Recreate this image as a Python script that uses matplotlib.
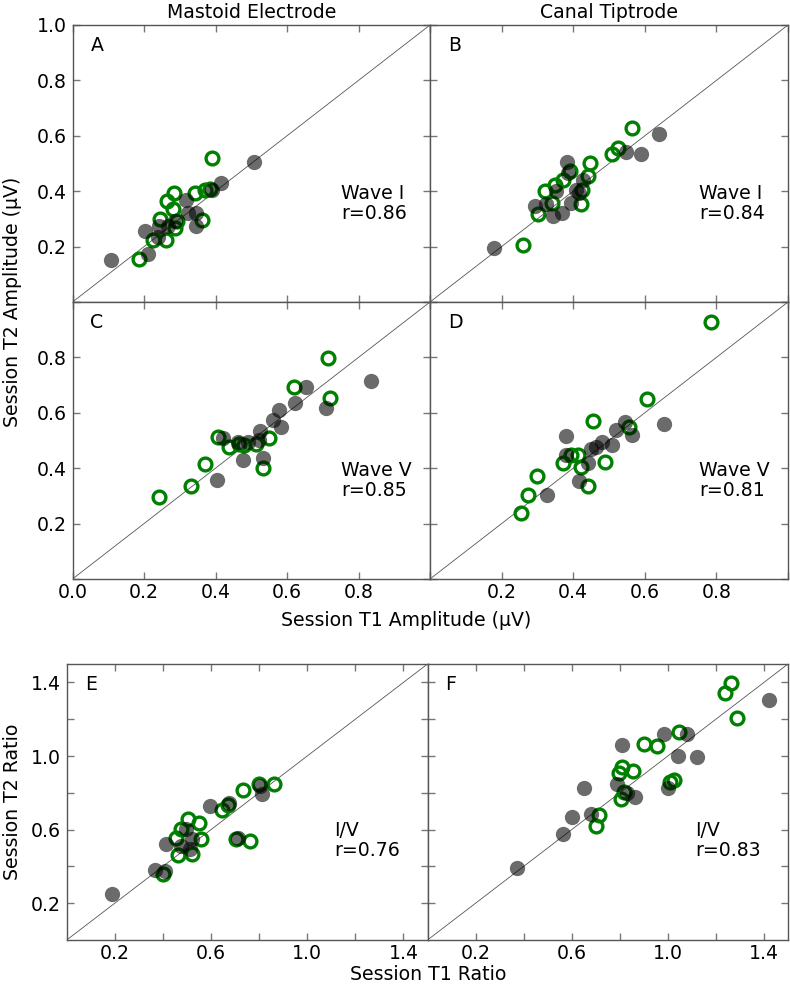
import matplotlib
matplotlib.use("Agg")
import matplotlib.pyplot as plt
from matplotlib.ticker import FixedLocator

plt.rcParams['font.family'] = ['DejaVu Sans']

# ---------------- data ----------------
# Panel A: Mastoid electrode, Wave I amplitude (uV)
A_gray_x = [0.109, 0.202, 0.210, 0.240, 0.241, 0.267, 0.286, 0.317, 0.323, 0.345, 0.345, 0.389, 0.415, 0.508]
A_gray_y = [0.151, 0.255, 0.175, 0.235, 0.273, 0.273, 0.292, 0.370, 0.322, 0.322, 0.273, 0.406, 0.430, 0.506]
A_green_x = [0.185, 0.226, 0.261, 0.244, 0.265, 0.283, 0.281, 0.291, 0.286, 0.342, 0.361, 0.370, 0.384, 0.389]
A_green_y = [0.155, 0.223, 0.225, 0.298, 0.364, 0.394, 0.336, 0.292, 0.267, 0.394, 0.295, 0.406, 0.408, 0.520]

# Panel B: Canal tiptrode, Wave I amplitude
B_gray_x = [0.180, 0.292, 0.325, 0.343, 0.369, 0.353, 0.383, 0.385, 0.394, 0.408, 0.427, 0.416, 0.548, 0.590, 0.639]
B_gray_y = [0.195, 0.348, 0.352, 0.310, 0.322, 0.400, 0.505, 0.466, 0.358, 0.406, 0.442, 0.394, 0.542, 0.536, 0.607]
B_green_x = [0.261, 0.303, 0.320, 0.341, 0.348, 0.371, 0.390, 0.425, 0.422, 0.446, 0.441, 0.509, 0.525, 0.563]
B_green_y = [0.207, 0.319, 0.400, 0.358, 0.424, 0.442, 0.472, 0.406, 0.355, 0.500, 0.454, 0.536, 0.557, 0.627]

# Panel C: Mastoid electrode, Wave V amplitude
C_gray_x = [0.405, 0.421, 0.477, 0.463, 0.491, 0.525, 0.523, 0.533, 0.561, 0.579, 0.584, 0.621, 0.654, 0.709, 0.835]
C_gray_y = [0.356, 0.508, 0.430, 0.495, 0.495, 0.536, 0.502, 0.436, 0.575, 0.611, 0.548, 0.635, 0.692, 0.617, 0.716]
C_green_x = [0.241, 0.332, 0.372, 0.407, 0.439, 0.467, 0.481, 0.514, 0.551, 0.534, 0.619, 0.715, 0.721]
C_green_y = [0.296, 0.334, 0.416, 0.514, 0.476, 0.488, 0.484, 0.488, 0.508, 0.400, 0.692, 0.797, 0.653]

# Panel D: Canal tiptrode, Wave V amplitude
D_gray_x = [0.328, 0.379, 0.379, 0.416, 0.440, 0.449, 0.463, 0.481, 0.509, 0.519, 0.546, 0.565, 0.653]
D_gray_y = [0.304, 0.518, 0.448, 0.352, 0.418, 0.469, 0.476, 0.493, 0.484, 0.538, 0.565, 0.520, 0.560]
D_green_x = [0.254, 0.275, 0.300, 0.372, 0.393, 0.414, 0.421, 0.441, 0.454, 0.488, 0.556, 0.605, 0.786]
D_green_y = [0.238, 0.304, 0.373, 0.418, 0.446, 0.446, 0.406, 0.337, 0.572, 0.424, 0.550, 0.650, 0.929]

# Panel E: Mastoid electrode, I/V ratio
E_gray_x = [0.189, 0.366, 0.408, 0.411, 0.498, 0.512, 0.519, 0.595, 0.675, 0.713, 0.803, 0.813, 0.477]
E_gray_y = [0.249, 0.381, 0.375, 0.520, 0.601, 0.493, 0.547, 0.727, 0.745, 0.556, 0.839, 0.791, 0.511]
E_green_x = [0.401, 0.463, 0.456, 0.477, 0.505, 0.551, 0.560, 0.523, 0.644, 0.671, 0.702, 0.761, 0.731, 0.800, 0.863]
E_green_y = [0.357, 0.460, 0.556, 0.601, 0.659, 0.637, 0.551, 0.466, 0.704, 0.736, 0.547, 0.538, 0.814, 0.850, 0.848]

# Panel F: Canal tiptrode, I/V ratio
F_gray_x = [0.373, 0.564, 0.601, 0.650, 0.680, 0.788, 0.809, 0.830, 0.864, 0.982, 0.999, 1.044, 1.079, 1.120, 1.422]
F_gray_y = [0.394, 0.574, 0.668, 0.827, 0.686, 0.850, 1.061, 0.800, 0.778, 1.121, 0.827, 0.998, 1.121, 0.993, 1.305]
F_green_x = [0.701, 0.712, 0.805, 0.819, 0.795, 0.809, 0.855, 1.010, 1.024, 0.902, 0.957, 1.048, 1.238, 1.262, 1.287]
F_green_y = [0.619, 0.677, 0.767, 0.803, 0.908, 0.939, 0.921, 0.857, 0.872, 1.065, 1.056, 1.128, 1.345, 1.395, 1.209]

panel_letters = ["A", "B", "C", "D", "E", "F"]
wave_labels = ["Wave I", "Wave I", "Wave V", "Wave V", "I/V", "I/V"]
r_values = ["0.86", "0.84", "0.85", "0.81", "0.76", "0.83"]
col_titles = ["Mastoid Electrode", "Canal Tiptrode"]
amp_ticks = [0.0, 0.2, 0.4, 0.6, 0.8, 1.0]
ratio_ticks = [0.2, 0.6, 1.0, 1.4]
ratio_minor = [0.4, 0.8, 1.2]

# ---------------- figure ----------------
W, H = 790, 985
fig = plt.figure(figsize=(W / 100, H / 100), dpi=100)

def add_ax(x0, x1, ytop, ybot):
    return fig.add_axes([x0 / W, 1 - ybot / H, (x1 - x0) / W, (ybot - ytop) / H])

spine_col = '#555555'
FS = 13.6

def style(ax, lim):
    ax.set_xlim(0, lim)
    ax.set_ylim(0, lim)
    for s in ax.spines.values():
        s.set_color(spine_col)
        s.set_linewidth(1.0)
    ax.tick_params(which='both', direction='in', top=True, right=True,
                   length=5, width=1, color='#777777', labelsize=FS)
    ax.tick_params(axis='x', which='both', pad=3)
    ax.tick_params(axis='y', which='both', pad=4)
    ax.plot([0, lim], [0, lim], color='#555555', lw=0.6, zorder=1)

def draw_points(ax, gx, gy, ox, oy):
    ax.plot(ox, oy, 'o', ms=9.2, mfc='none', mec='#008000', mew=2.4, zorder=2, clip_on=False)
    ax.plot(gx, gy, 'o', ms=11, mfc='black', mec='none', alpha=0.58, zorder=3, clip_on=False)

def annotate(ax, i, tx, ty):
    ax.text(0.05, 0.925, panel_letters[i], transform=ax.transAxes, fontsize=FS,
            ha='left', va='center')
    ax.text(tx, ty, wave_labels[i] + "\n" + "r=" + r_values[i], fontsize=FS,
            ha='left', va='center', linespacing=1.1, transform=ax.transAxes)

axA = add_ax(72.5, 430, 25, 302)
axB = add_ax(430, 788, 25, 302)
axC = add_ax(72.5, 430, 302, 579)
axD = add_ax(430, 788, 302, 579)
axE = add_ax(66.7, 427.5, 664, 940)
axF = add_ax(427.5, 788, 664, 940)

data = [
    (axA, A_gray_x, A_gray_y, A_green_x, A_green_y),
    (axB, B_gray_x, B_gray_y, B_green_x, B_green_y),
    (axC, C_gray_x, C_gray_y, C_green_x, C_green_y),
    (axD, D_gray_x, D_gray_y, D_green_x, D_green_y),
    (axE, E_gray_x, E_gray_y, E_green_x, E_green_y),
    (axF, F_gray_x, F_gray_y, F_green_x, F_green_y),
]

for i, (ax, gx, gy, ox, oy) in enumerate(data):
    if i < 4:
        style(ax, 1.0)
        ax.xaxis.set_major_locator(FixedLocator(amp_ticks))
        ax.yaxis.set_major_locator(FixedLocator(amp_ticks))
        annotate(ax, i, 0.752, 0.355)
    else:
        style(ax, 1.5)
        ax.xaxis.set_major_locator(FixedLocator(ratio_ticks))
        ax.yaxis.set_major_locator(FixedLocator(ratio_ticks))
        ax.xaxis.set_minor_locator(FixedLocator(ratio_minor))
        ax.yaxis.set_minor_locator(FixedLocator(ratio_minor))
        annotate(ax, i, 0.742, 0.36)
    draw_points(ax, gx, gy, ox, oy)

def fmt_amp(vals, skip_zero=True, skip_one=True):
    labs = []
    for v in vals:
        if (skip_zero and v == 0.0) or (skip_one and v == 1.0):
            labs.append("")
        else:
            labs.append(f"{v:.1f}")
    return labs

axA.set_yticklabels(fmt_amp(amp_ticks, True, False))
axA.set_xticklabels([])
axB.set_xticklabels([]); axB.set_yticklabels([])
axC.set_yticklabels(fmt_amp(amp_ticks, True, True))
axC.set_xticklabels(fmt_amp(amp_ticks, False, True))
axD.set_yticklabels([])
axD.set_xticklabels(fmt_amp(amp_ticks, True, True))
axE.set_xticklabels([f"{v:.1f}" for v in ratio_ticks])
axE.set_yticklabels([f"{v:.1f}" for v in ratio_ticks])
axF.set_xticklabels([f"{v:.1f}" for v in ratio_ticks])
axF.set_yticklabels([])

axA.set_title(col_titles[0], fontsize=FS, pad=5)
axB.set_title(col_titles[1], fontsize=FS, pad=5)

fig.text(13 / W, 1 - 302 / H, "Session T2 Amplitude (µV)", rotation=90,
         ha='center', va='center', fontsize=FS)
fig.text(406 / W, 1 - 621 / H, "Session T1 Amplitude (µV)", ha='center', va='center', fontsize=FS)
fig.text(13 / W, 1 - 802 / H, "Session T2 Ratio", rotation=90,
         ha='center', va='center', fontsize=FS)
fig.text(428 / W, 1 - 974 / H, "Session T1 Ratio", ha='center', va='center', fontsize=FS)

fig.savefig("out.png", dpi=100)
